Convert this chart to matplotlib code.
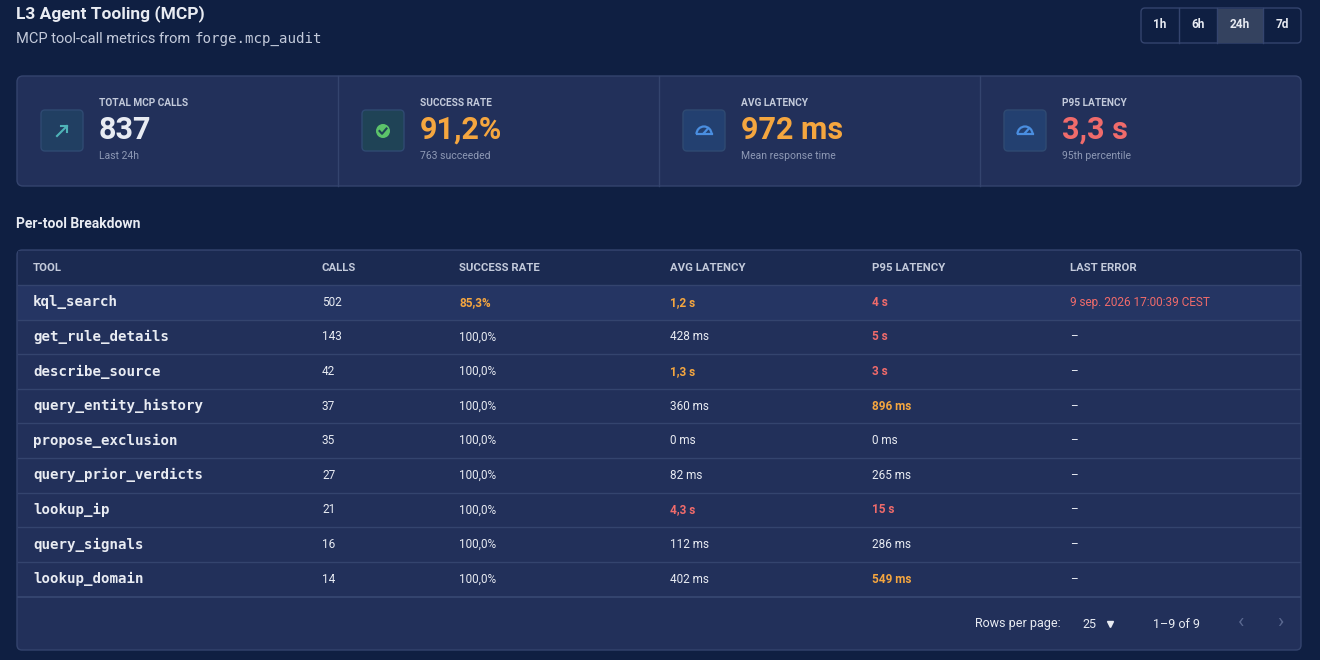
import matplotlib
matplotlib.use("Agg")
import matplotlib.pyplot as plt
from matplotlib.patches import FancyBboxPatch, Rectangle, Circle, Arc

# ---- data ----
tools = ["kql_search", "get_rule_details", "describe_source", "query_entity_history",
         "propose_exclusion", "query_prior_verdicts", "lookup_ip", "query_signals", "lookup_domain"]
calls = [502, 143, 42, 37, 35, 27, 21, 16, 14]
success = [85.3, 100.0, 100.0, 100.0, 100.0, 100.0, 100.0, 100.0, 100.0]
avg_ms = [1200, 428, 1300, 360, 0, 82, 4300, 112, 402]
p95_ms = [4000, 5000, 3000, 896, 0, 265, 15000, 286, 549]
last_error = ["9 sep. 2026 17:00:39 CEST", "–", "–", "–", "–", "–", "–", "–", "–"]
columns = ["TOOL", "CALLS", "SUCCESS RATE", "AVG LATENCY", "P95 LATENCY", "LAST ERROR"]
kpi_labels = ["TOTAL MCP CALLS", "SUCCESS RATE", "AVG LATENCY", "P95 LATENCY"]
kpi_values = ["837", "91,2%", "972 ms", "3,3 s"]
kpi_subs = ["Last 24h", "763 succeeded", "Mean response time", "95th percentile"]
ranges = ["1h", "6h", "24h", "7d"]

BG = "#0f1f42"; CARD = "#22305a"; EDGE = "#34446e"; HDR = "#1b2a51"
WHITE = "#e8ebf2"; MUTED = "#8e99b5"; ORANGE = "#f5a63f"; RED = "#f06b6b"
FONT = "Roboto"; MONO = "DejaVu Sans Mono"

def fmt_ms(v):
    if v >= 1000:
        s = f"{v/1000:.1f}".replace(".", ",")
        if s.endswith(",0"): s = s[:-2]
        return s + " s"
    return f"{v} ms"

def avg_col(v):
    return RED if v >= 4000 else ORANGE if v >= 1000 else WHITE
def p95_col(v):
    return RED if v >= 3000 else ORANGE if v >= 500 else WHITE

fig = plt.figure(figsize=(13.2, 6.6), dpi=100, facecolor=BG)
ax = fig.add_axes([0, 0, 1, 1])
ax.set_xlim(0, 1320); ax.set_ylim(660, 0); ax.axis("off")
ax.set_facecolor(BG)

def T(x, y, s, size, color=WHITE, weight="normal", family=FONT, ha="left", va="center"):
    return ax.text(x, y, s, fontsize=size, color=color, fontweight=weight, family=family, ha=ha, va=va)

T(16, 14, "L3 Agent Tooling (MCP)", 12.5, weight="bold")
sub = T(16, 39, "MCP tool-call metrics from", 10.5, color="#c3cadb")
ax.annotate("forge.mcp_audit", xy=(1, 0.5), xycoords=sub, xytext=(4, 0),
            textcoords="offset pixels", va="center", ha="left",
            fontsize=10.2, color="#c3cadb", family=MONO)

# range buttons
bx = [1141, 1179, 1217, 1263, 1301]
ax.add_patch(FancyBboxPatch((1141, 8), 160, 35, boxstyle="round,pad=0,rounding_size=4",
                            fc=BG, ec=EDGE, lw=1))
ax.add_patch(Rectangle((bx[2], 8.5), bx[3]-bx[2], 34, fc="#34425f", ec="none"))
for i, r in enumerate(ranges):
    if i > 0:
        ax.plot([bx[i], bx[i]], [8, 43], color=EDGE, lw=1)
    T((bx[i]+bx[i+1])/2, 25, r, 8.5, weight="bold", ha="center")

# KPI cards
ax.add_patch(FancyBboxPatch((17, 76), 1284, 110, boxstyle="round,pad=0,rounding_size=6",
                            fc=CARD, ec=EDGE, lw=1))
kcol = [WHITE, ORANGE, ORANGE, RED]
for i in range(4):
    x0 = 17 + i * 321
    if i > 0:
        ax.plot([x0, x0], [76, 186], color=EDGE, lw=1)
    ix = x0 + 24
    fc = "#1f4356" if i == 1 else "#234070" if i >= 2 else "#213f62"
    ax.add_patch(FancyBboxPatch((ix, 110), 42, 41, boxstyle="round,pad=0,rounding_size=4",
                                fc=fc, ec="#2f4a72", lw=1))
    cx, cy = ix + 21, 131
    if i == 0:
        ac_ = "#4fb3b8"
        ax.plot([cx-5, cx+5], [cy+5, cy-5], color=ac_, lw=1.5)
        ax.plot([cx-1, cx+5, cx+5], [cy-5, cy-5, cy+1], color=ac_, lw=1.5)
    elif i == 1:
        ax.add_patch(Circle((cx, cy), 7, fc="#5cc36a", ec="none"))
        ax.plot([cx-3.5, cx-1, cx+3.5], [cy, cy+2.8, cy-2.5], color="#1f4356", lw=1.5)
    else:
        ax.add_patch(Arc((cx, cy+3), 15, 15, theta1=180, theta2=360, color="#4a8ee0", lw=1.6))
        ax.plot([cx-7.5, cx+7.5], [cy+3, cy+3], color="#4a8ee0", lw=1.6)
        ax.plot([cx, cx+3.5], [cy+2, cy-2], color="#4a8ee0", lw=1.6)
    tx = x0 + 82
    T(tx, 103, kpi_labels[i], 7.3, color="#c3cadb", weight="bold")
    T(tx, 130, kpi_values[i], 22, color=kcol[i], weight="bold")
    T(tx, 156, kpi_subs[i], 7.5, color=MUTED)

T(16, 224, "Per-tool Breakdown", 10, weight="bold")

# table
ax.add_patch(FancyBboxPatch((17, 250), 1284, 400, boxstyle="round,pad=0,rounding_size=5",
                            fc=CARD, ec=EDGE, lw=1))
ax.add_patch(Rectangle((18, 251), 1282, 34, fc=HDR, ec="none"))
ax.add_patch(Rectangle((18, 285), 1282, 35, fc="#253563", ec="none"))
colx = [33, 322, 459, 670, 872, 1070]
for c, x in zip(columns, colx):
    T(x, 268, c, 8.2, color="#c3cadb", weight="bold")
row_h = 34.6
for r in range(len(tools)):
    y = 285 + row_h * (r + 0.5)
    ax.plot([18, 1300], [285 + row_h * r, 285 + row_h * r], color=EDGE, lw=1)
    T(colx[0], y, tools[r], 10.2, weight="bold", family=MONO)
    T(colx[1], y, str(calls[r]), 8.5)
    sc = ORANGE if success[r] < 90 else WHITE
    T(colx[2], y, f"{success[r]:.1f}%".replace(".", ","), 8.5, color=sc,
      weight="bold" if sc != WHITE else "normal")
    ac = avg_col(avg_ms[r]); pc = p95_col(p95_ms[r])
    T(colx[3], y, fmt_ms(avg_ms[r]), 8.5, color=ac, weight="bold" if ac != WHITE else "normal")
    T(colx[4], y, fmt_ms(p95_ms[r]), 8.5, color=pc, weight="bold" if pc != WHITE else "normal")
    T(colx[5], y, last_error[r], 8.5, color=RED if last_error[r] != "–" else WHITE)
ax.plot([18, 1300], [597, 597], color=EDGE, lw=1.5)

T(975, 624, "Rows per page:", 9)
T(1082, 624, "25", 9)
ax.plot([1110], [624], marker="v", color=WHITE, markersize=4.5)
T(1153, 624, "1–9 of 9", 9)
T(1241, 623, "‹", 15, color="#5a6890", ha="center")
T(1280, 623, "›", 15, color="#5a6890", ha="center")

fig.savefig("out.png", dpi=100, facecolor=BG)
